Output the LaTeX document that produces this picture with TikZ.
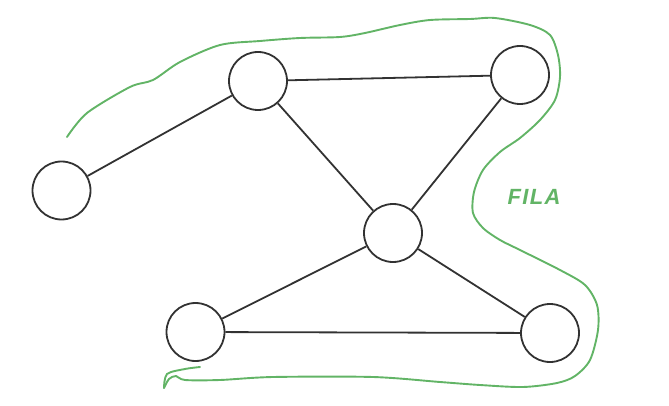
\documentclass[tikz,border=0pt]{standalone}
\usepackage{fontspec}
\newfontfamily\filafont[LetterSpace=6]{Liberation Sans}
\definecolor{sketchgreen}{RGB}{98,180,102}
\definecolor{sketchgray}{RGB}{50,50,50}
\begin{document}
\begin{tikzpicture}[x=1pt,y=-1pt,
  vtx/.style={circle,draw=sketchgray,line width=1.8pt,minimum size=58pt,inner sep=0pt},
  edge/.style={draw=sketchgray,line width=1.8pt},
  lasso/.style={draw=sketchgreen,line width=1.9pt,line cap=round,line join=round},
  lbl/.style={text=sketchgreen,font=\filafont\bfseries\itshape\fontsize{22}{26}\selectfont}]
\useasboundingbox (0,0) rectangle (669,406);
\node[vtx] (a) at (61.5,190.5) {};
\node[vtx] (b) at (258,81) {};
\node[vtx] (c) at (520,75) {};
\node[vtx] (d) at (393,233) {};
\node[vtx] (e) at (195.5,332) {};
\node[vtx] (f) at (550,333) {};
\draw[edge] (a) -- (b);
\draw[edge] (b) -- (c);
\draw[edge] (b) -- (d);
\draw[edge] (c) -- (d);
\draw[edge] (d) -- (e);
\draw[edge] (d) -- (f);
\draw[edge] (e) -- (f);
\draw[lasso] plot[smooth,tension=0.5] coordinates {
 (67,137) (87,113) (130,87) (153,80) (180,62) (220,45) (260,41) (300,38)
 (340,37) (365,33) (400,25) (430,20) (470,19) (495,18) (530,25) (550,35)
 (558,55) (560,77) (555,100) (540,120) (520,138) (500,152) (483,170)
 (474,192) (473,213) (483,228) (500,240) (520,250) (560,270) (585,285)
 (597,305) (598,330) (590,360) (575,376) (557,383) (523,387) (480,385)
 (440,382) (373,377) (273,377) (220,380) (185,380) (176,376) (169,379)
 (164,388)};
\draw[lasso] plot[smooth,tension=0.5] coordinates {
 (164,388) (167,374) (185,369) (200,367)};
\node[lbl] (fila) at (534,197) {FILA};
\end{tikzpicture}
\end{document}
